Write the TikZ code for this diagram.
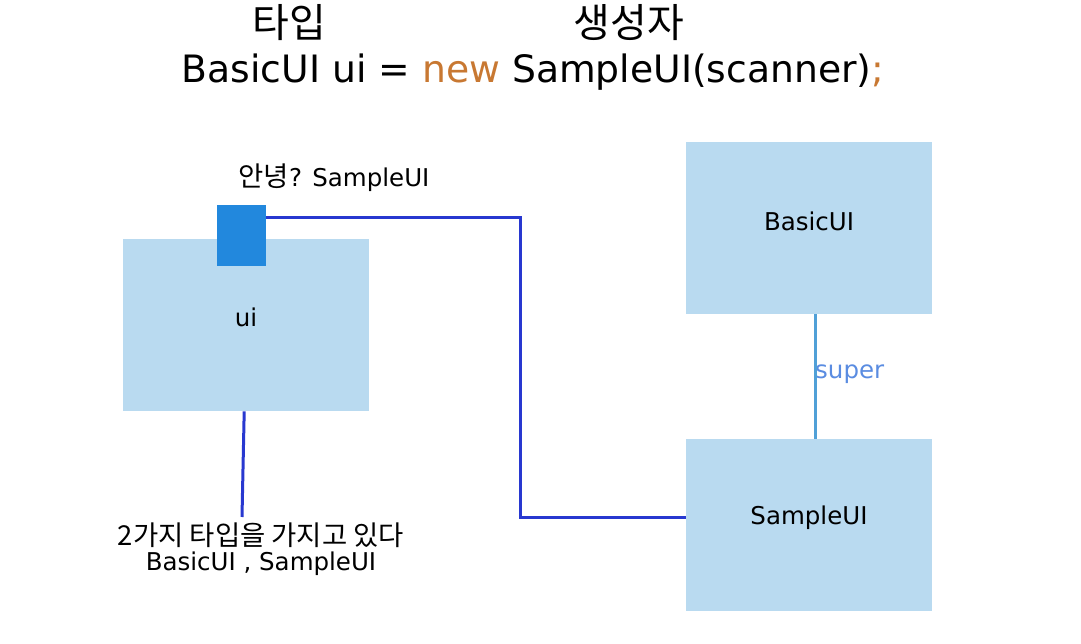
\documentclass[tikz,border=0pt]{standalone}
\usepackage{fontspec}
\setmainfont{DejaVu Sans}
\newfontfamily\kr[Scale=1.12]{Noto Sans CJK KR}
\newfontfamily\krh[Scale=1.06]{Noto Sans CJK KR}
\definecolor{boxfill}{RGB}{185,218,240}
\definecolor{sqfill}{RGB}{34,136,221}
\definecolor{linkblue}{RGB}{40,56,208}
\definecolor{superline}{RGB}{80,160,215}
\definecolor{supertext}{RGB}{90,140,225}
\definecolor{kwOrange}{RGB}{200,120,50}
\tikzset{
  ubox/.style={fill=boxfill, draw=none, minimum width=246pt, minimum height=172pt, inner sep=0pt, anchor=north west},
  lbl/.style={font=\fontsize{24.5}{28}\selectfont, inner sep=0pt},
  big/.style={font=\fontsize{37.7}{42}\selectfont, inner sep=0pt},
  link/.style={draw=linkblue, line width=3pt},
}
\begin{document}
\begin{tikzpicture}[x=1pt,y=-1pt]
\useasboundingbox (0,0) rectangle (1081,644);
% header
\node[big] (t1) at (289,23) {\krh 타입};
\node[big] (t2) at (629,23) {\krh 생성자};
\node[big] (code) at (533,72) {BasicUI ui = \textcolor{kwOrange}{new} SampleUI(scanner)\textcolor{kwOrange}{;}};
% boxes
\node[ubox] (ui) at (123,239) {};
\node[ubox] (basic) at (686,142) {};
\node[ubox] (sample) at (686,439) {};
\node[fill=sqfill, minimum width=49pt, minimum height=61pt, inner sep=0pt, anchor=north west] (sq) at (217,205) {};
% labels
\node[lbl] (uil) at (246,317) {ui};
\node[lbl] (basicl) at (809,221) {BasicUI};
\node[lbl] (samplel) at (809,518) {SampleUI};
\node[lbl] (hello) at (334,178) {{\kr 안녕}? SampleUI};
\node[lbl, text=supertext, anchor=west] (superl) at (815,374) {super};
\node[lbl] (note1) at (261,535) {\kr 2가지 타입을 가지고 있다};
\node[lbl] (note2) at (261,564) {BasicUI , SampleUI};
% connectors
\coordinate (s0) at ([yshift=-13pt]sq.north east);
\coordinate (bend1) at (520,218);
\coordinate (bend2) at (520,517);
\draw[link] (s0) -- (bend1) -- (bend2) -- (bend2 -| sample.west);
\coordinate (n0) at (242,517);
\draw[link] ([xshift=-2pt]ui.south) -- (n0);
\draw[draw=superline, line width=3pt] ([xshift=6pt]basic.south) -- ([xshift=6pt]sample.north);
\end{tikzpicture}
\end{document}
